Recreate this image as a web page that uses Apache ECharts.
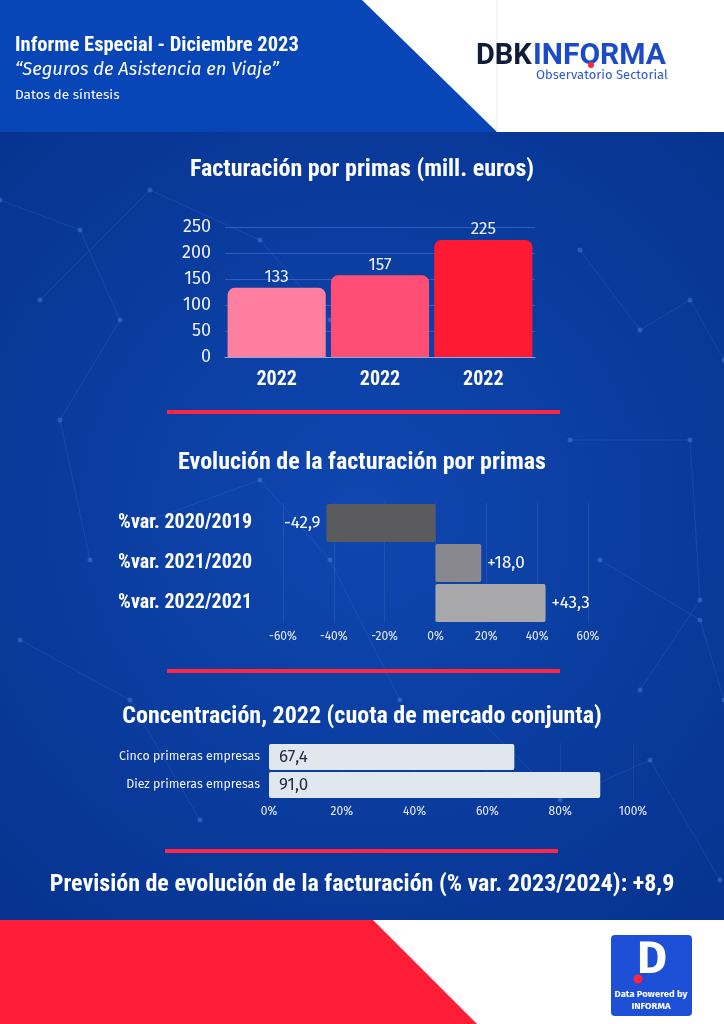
<!DOCTYPE html>
<html><head><meta charset="utf-8">
<script src="https://cdn.jsdelivr.net/npm/echarts@6/dist/echarts.min.js"></script>
<style>html,body{margin:0;padding:0;background:#0a3a9c}#c{width:724px;height:1024px}</style>
</head><body><div id="c"></div>
<script>
// ---- data ----
const primasCats = ['2022', '2022', '2022'];
const primasVals = [133, 157, 225];
const primasColors = ['#ff7fa1', '#ff4d74', '#ff1a33'];
const primasTicks = [0, 50, 100, 150, 200, 250];

const evolCats = ['%var. 2020/2019', '%var. 2021/2020', '%var. 2022/2021'];
const evolVals = [-42.9, 18.0, 43.3];
const evolColors = ['#5b5b5d', '#88888e', '#a9a9ab'];
const evolTicks = [-60, -40, -20, 0, 20, 40, 60];

const concCats = ['Cinco primeras empresas', 'Diez primeras empresas'];
const concVals = [67.4, 91.0];
const concTicks = [0, 20, 40, 60, 80, 100];

const prevision = 8.9;

const COND = "'Roboto Condensed','DejaVu Sans Condensed','Liberation Sans Narrow',Roboto,sans-serif";
const SANS = "'Fira Sans','Open Sans','Noto Sans',Roboto,sans-serif";
const fmt = v => v.toFixed(1).replace('.', ',');
const fmtSign = v => (v > 0 ? '+' : '') + fmt(v);

const chart = echarts.init(document.getElementById('c'), null, {renderer: 'canvas'});

// decorative network lines (background texture)
const net = [
  [[0,200],[80,230],[120,320],[60,420],[90,560]],
  [[40,300],[150,190],[260,240],[330,320]],
  [[580,250],[640,330],[690,300],[724,360]],
  [[570,440],[690,440],[700,600],[640,690]],
  [[150,520],[260,480],[330,560],[400,700]],
  [[600,560],[700,620],[724,700]],
  [[20,640],[130,700],[200,820]],
  [[480,720],[560,800],[650,760],[720,880]]
];
const netGraphics = [];
net.forEach(pts => {
  netGraphics.push({type:'polyline', silent:true, shape:{points:pts}, style:{stroke:'rgba(90,150,255,0.16)', lineWidth:1, fill:null}});
  pts.forEach(p => netGraphics.push({type:'circle', silent:true, shape:{cx:p[0], cy:p[1], r:2.5}, style:{fill:'rgba(110,170,255,0.3)'}}));
});

const TF = "bold 24px " + COND;
const option = {
  animation: false,
  backgroundColor: {
    type: 'radial', x: 0.5, y: 0.5, r: 0.75,
    colorStops: [{offset:0, color:'#0f47b0'}, {offset:1, color:'#06338f'}]
  },
  graphic: [
    ...netGraphics,
    // header
    {type:'rect', silent:true, shape:{x:0,y:0,width:724,height:132}, style:{fill:'#ffffff'}},
    {type:'polygon', silent:true, shape:{points:[[0,0],[362,0],[497,132],[0,132]]}, style:{fill:'#0846b7'}},
    {type:'line', silent:true, shape:{x1:497,y1:0,x2:497,y2:132}, style:{stroke:'#e4e8ee', lineWidth:1}},
    {type:'text', silent:true, left:15, top:35, style:{text:'Informe Especial - Diciembre 2023', fill:'#fff', font:"bold 20.5px "+COND}},
    {type:'text', silent:true, left:15, top:61, style:{text:'“Seguros de Asistencia en Viaje”', fill:'#fff', font:"italic 18.4px "+SANS}},
    {type:'text', silent:true, left:15, top:88, style:{text:'Datos de síntesis', fill:'#fff', font:"13.6px "+SANS}},
    {type:'text', silent:true, left:476, top:42, style:{text:'DBK', fill:'#0f1d38', font:"bold 29px Roboto,sans-serif"}},
    {type:'text', silent:true, left:533, top:41, style:{text:'INFORMA', fill:'#1b4cc6', font:"bold 30px Roboto,sans-serif"}},
    {type:'circle', silent:true, shape:{cx:591, cy:65, r:3}, style:{fill:'#ff2440'}},
    {type:'text', silent:true, left:536, top:69, style:{text:'Observatorio Sectorial', fill:'#2d5bd0', font:"13px "+SANS}},
    // section titles
    {type:'text', silent:true, x:362, y:170, style:{text:'Facturación por primas (mill. euros)', fill:'#fff', font:TF, align:'center', verticalAlign:'middle'}},
    {type:'rect', silent:true, shape:{x:167,y:410,width:393,height:4}, style:{fill:'#ff2545'}},
    {type:'text', silent:true, x:362, y:463, style:{text:'Evolución de la facturación por primas', fill:'#fff', font:TF, align:'center', verticalAlign:'middle'}},
    {type:'rect', silent:true, shape:{x:167,y:669,width:393,height:4}, style:{fill:'#ff2545'}},
    {type:'text', silent:true, x:362, y:717, style:{text:'Concentración, 2022 (cuota de mercado conjunta)', fill:'#fff', font:TF, align:'center', verticalAlign:'middle'}},
    {type:'rect', silent:true, shape:{x:165,y:849,width:393,height:4}, style:{fill:'#ff2545'}},
    {type:'text', silent:true, x:362, y:885, style:{text:'Previsión de evolución de la facturación (% var. 2023/2024): ' + fmtSign(prevision), fill:'#fff', font:TF, align:'center', verticalAlign:'middle'}},
    // footer
    {type:'rect', silent:true, shape:{x:0,y:920,width:724,height:104}, style:{fill:'#ffffff'}},
    {type:'polygon', silent:true, shape:{points:[[0,920],[373,920],[477,1024],[0,1024]]}, style:{fill:'#ff1e38'}},
    {type:'rect', silent:true, shape:{x:611,y:935,width:81,height:81,r:4}, style:{fill:'#1d50d6'}},
    {type:'text', silent:true, x:652, y:960, style:{text:'D', fill:'#fff', font:"bold 46px "+SANS, align:'center', verticalAlign:'middle'}},
    {type:'circle', silent:true, shape:{cx:638, cy:979, r:4.5}, style:{fill:'#ff2440'}},
    {type:'text', silent:true, x:651, y:994, style:{text:'Data Powered by', fill:'#fff', font:"bold 9.5px "+SANS, align:'center', verticalAlign:'middle'}},
    {type:'text', silent:true, x:651, y:1006, style:{text:'INFORMA', fill:'#fff', font:"bold 9.5px "+SANS, align:'center', verticalAlign:'middle'}}
  ],
  grid: [
    {left:225, right:189, top:227, bottom:667, containLabel:false},
    {left:283, right:136, top:503, height:120, containLabel:false},
    {left:269, right:91, top:743, height:56, containLabel:false}
  ],
  xAxis: [
    {gridIndex:0, type:'category', data:primasCats,
     axisLine:{show:true, lineStyle:{color:'rgba(200,215,255,0.6)'}}, axisTick:{show:false},
     axisLabel:{color:'#fff', fontFamily:COND, fontWeight:'bold', fontSize:20, margin:13}},
    {gridIndex:1, type:'value', min:evolTicks[0], max:evolTicks[evolTicks.length-1], interval:20,
     axisLine:{show:false}, axisTick:{show:false},
     splitLine:{show:true, lineStyle:{color:'rgba(255,255,255,0.08)'}},
     axisLabel:{color:'#e6ecfa', fontFamily:SANS, fontSize:12, margin:8, formatter:'{value}%'}},
    {gridIndex:2, type:'value', min:concTicks[0], max:concTicks[concTicks.length-1], interval:20,
     axisLine:{show:false}, axisTick:{show:false},
     splitLine:{show:true, lineStyle:{color:'rgba(255,255,255,0.05)'}},
     axisLabel:{color:'#e6ecfa', fontFamily:SANS, fontSize:12, margin:7, formatter:'{value}%'}}
  ],
  yAxis: [
    {gridIndex:0, type:'value', min:primasTicks[0], max:primasTicks[primasTicks.length-1], interval:50,
     axisLine:{show:false}, axisTick:{show:false},
     splitLine:{show:true, lineStyle:{color:'rgba(140,170,255,0.3)'}},
     axisLabel:{color:'#eef2fc', fontFamily:SANS, fontSize:18, margin:14}},
    {gridIndex:1, type:'category', data:evolCats, inverse:true,
     axisLine:{show:false}, axisTick:{show:false},
     axisLabel:{color:'#fff', fontFamily:COND, fontWeight:'bold', fontSize:20, margin:31}},
    {gridIndex:2, type:'category', data:concCats, inverse:true,
     axisLine:{show:false}, axisTick:{show:false},
     axisLabel:{color:'#eef2fc', fontFamily:SANS, fontSize:12.4, margin:9}}
  ],
  series: [
    {type:'bar', xAxisIndex:0, yAxisIndex:0, barCategoryGap:'5%',
     data: primasVals.map((v,i) => ({value:v, itemStyle:{color:primasColors[i], borderRadius:[7,7,0,0]}})),
     label:{show:true, position:'top', distance:2, color:'#eef2fc', fontFamily:SANS, fontSize:17}},
    {type:'bar', xAxisIndex:1, yAxisIndex:1, barCategoryGap:'5%',
     data: evolVals.map((v,i) => ({value:v, itemStyle:{color:evolColors[i], borderRadius:2},
       label:{position: v < 0 ? 'left' : 'right'}})),
     label:{show:true, distance:6, color:'#fff', fontFamily:SANS, fontSize:17, formatter:p => fmtSign(p.value)}},
    {type:'bar', xAxisIndex:2, yAxisIndex:2, barCategoryGap:'8%',
     data: concVals, itemStyle:{color:'#e1e7ef', borderRadius:2},
     label:{show:true, position:'insideLeft', distance:10, color:'#1e2a44', fontFamily:SANS, fontSize:17, formatter:p => fmt(p.value)}}
  ]
};
chart.setOption(option);
</script></body></html>
